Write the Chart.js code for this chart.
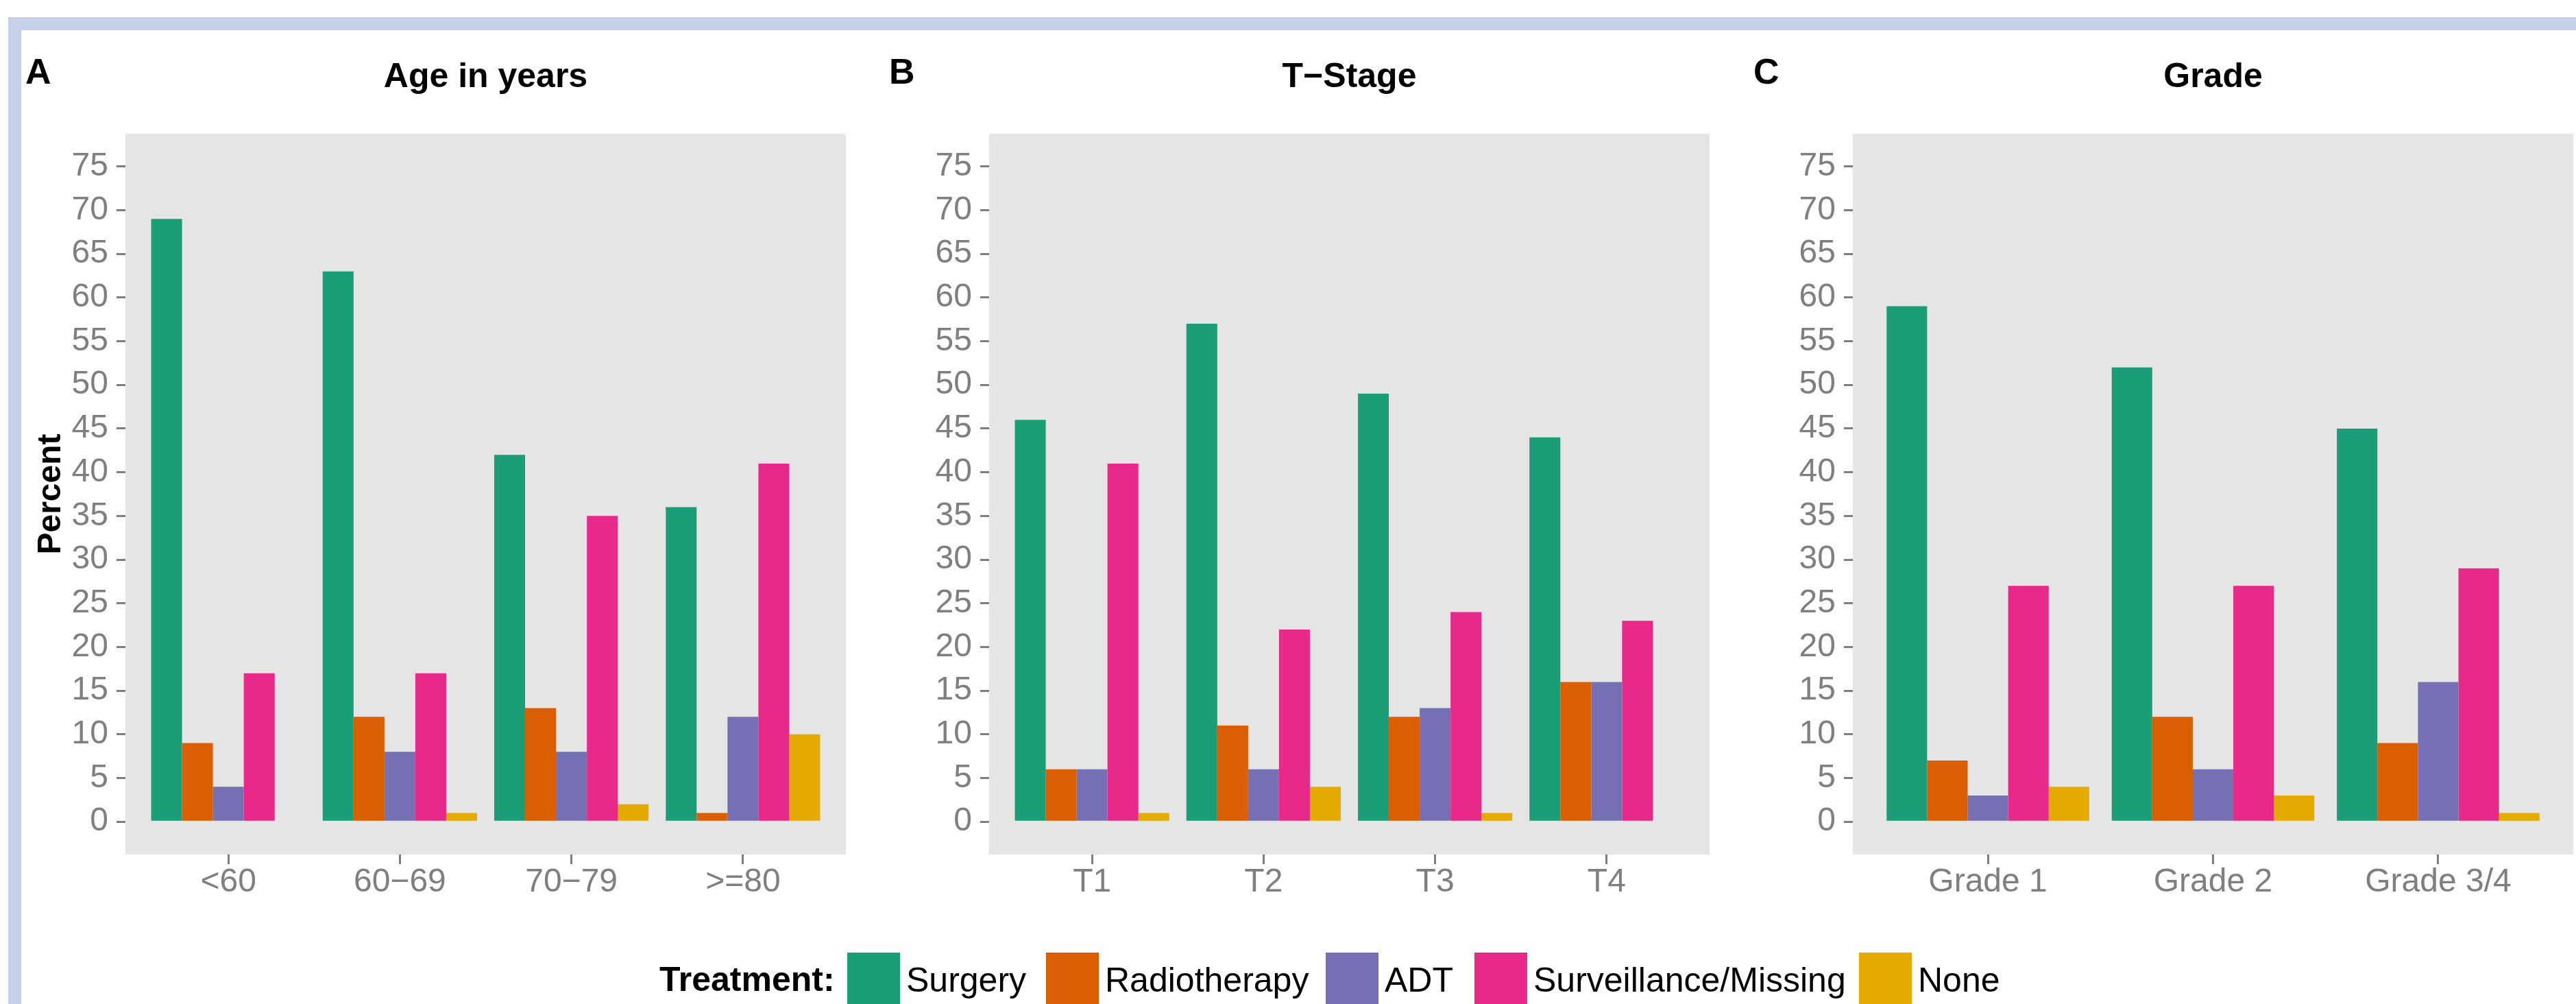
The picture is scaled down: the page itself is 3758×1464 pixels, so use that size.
<!DOCTYPE html>
<html>
<head>
<meta charset="utf-8">
<script src="https://cdn.jsdelivr.net/npm/chart.js@4.4.1/dist/chart.umd.min.js"></script>
<style>
html,body{margin:0;padding:0;background:#fff;width:3758px;height:1464px;overflow:hidden;font-family:"Liberation Sans",Arial,Helvetica,sans-serif;position:relative;}
#frame{position:absolute;left:12px;top:25px;width:4000px;height:2000px;border-top:19px solid #c6d0e8;border-left:19px solid #c6d0e8;box-sizing:border-box;}
canvas{position:absolute;top:0;}
.plab{position:absolute;font-weight:bold;font-size:52px;line-height:52px;top:78px;color:#000;}
.lg-title{position:absolute;top:1403px;font-weight:bold;font-size:50px;line-height:50px;color:#000;white-space:nowrap;}
.lg-text{position:absolute;top:1404px;font-size:50px;line-height:50px;color:#000;white-space:nowrap;}
.lg-sw{position:absolute;top:1389px;height:80px;width:77px;}
</style>
</head>
<body>
<div id="frame"></div>
<canvas id="cA"></canvas>
<canvas id="cB"></canvas>
<canvas id="cC"></canvas>
<div class="plab" style="left:37px">A</div>
<div class="plab" style="left:1297px">B</div>
<div class="plab" style="left:2558px">C</div>
<div id="legend"></div>
<script>
// ---- data ----
const treatments = ['Surgery', 'Radiotherapy', 'ADT', 'Surveillance/Missing', 'None'];
const treatmentColors = ['#1B9E77', '#D95F02', '#7570B3', '#E7298A', '#E6AB02'];

const ageCategories = ['<60', '60\u221269', '70\u221279', '>=80'];
const ageSurgery = [69, 63, 42, 36];
const ageRadiotherapy = [9, 12, 13, 1];
const ageADT = [4, 8, 8, 12];
const ageSurveillance = [17, 17, 35, 41];
const ageNone = [0, 1, 2, 10];

const stageCategories = ['T1', 'T2', 'T3', 'T4'];
const stageSurgery = [46, 57, 49, 44];
const stageRadiotherapy = [6, 11, 12, 16];
const stageADT = [6, 6, 13, 16];
const stageSurveillance = [41, 22, 24, 23];
const stageNone = [1, 4, 1, 0];

const gradeCategories = ['Grade 1', 'Grade 2', 'Grade 3/4'];
const gradeSurgery = [59, 52, 45];
const gradeRadiotherapy = [7, 12, 9];
const gradeADT = [3, 6, 16];
const gradeSurveillance = [27, 27, 29];
const gradeNone = [4, 3, 1];

const yTickValues = [0, 5, 10, 15, 20, 25, 30, 35, 40, 45, 50, 55, 60, 65, 70, 75];
const yMin = -3.75, yMax = 78.75;

// ---- drawing ----
const FONT = '"Liberation Sans", Arial, Helvetica, sans-serif';
Chart.defaults.font.family = FONT;
const GREY = '#7f7f7f';

const panelBg = {
  id: 'panelBg',
  beforeDraw(chart) {
    const {ctx, chartArea: a} = chart;
    ctx.save();
    ctx.fillStyle = '#e5e5e5';
    ctx.fillRect(a.left, a.top, a.right - a.left, a.bottom - a.top);
    ctx.restore();
  }
};

function makeChart(id, left, width, axisW, padRight, title, cats, series, showYTitle) {
  const canvas = document.getElementById(id);
  canvas.width = width;
  canvas.height = 1330;
  canvas.style.left = left + 'px';
  canvas.style.width = width + 'px';
  canvas.style.height = '1330px';
  const datasets = treatments.map((t, i) => ({
    label: t,
    data: series[i].map((v, j) => ({x: j + 1, y: v})),
    backgroundColor: treatmentColors[i],
    borderWidth: 0,
    categoryPercentage: 0.9,
    barPercentage: 1.0
  }));
  return new Chart(canvas, {
    type: 'bar',
    data: {datasets},
    plugins: [panelBg],
    options: {
      responsive: false,
      animation: false,
      devicePixelRatio: 1,
      layout: {padding: {left: 0, right: padRight, top: 0, bottom: 0}},
      plugins: {
        legend: {display: false},
        tooltip: {enabled: false},
        title: {
          display: true,
          text: title,
          fullSize: false,
          color: '#000',
          font: {family: FONT, size: 50, weight: 'bold', lineHeight: 1},
          padding: {top: 88, bottom: 57}
        }
      },
      scales: {
        x: {
          type: 'linear',
          offset: false,
          min: 0.4,
          max: cats.length + 0.6,
          afterBuildTicks: s => { s.ticks = cats.map((c, i) => ({value: i + 1})); },
          afterFit: s => { s.height = 84; },
          border: {display: false},
          grid: {display: true, offset: false, drawOnChartArea: false, drawTicks: true, tickLength: 14, tickWidth: 3, tickColor: GREY, color: GREY, lineWidth: 3},
          ticks: {
            autoSkip: false, maxRotation: 0, minRotation: 0, padding: 3,
            color: GREY, font: {family: FONT, size: 48, lineHeight: 1},
            callback: v => cats[v - 1]
          }
        },
        y: {
          type: 'linear',
          min: yMin,
          max: yMax,
          afterBuildTicks: s => { s.ticks = yTickValues.map(v => ({value: v})); },
          afterFit: s => { s.width = axisW; },
          border: {display: false},
          grid: {offset: false, drawOnChartArea: false, drawTicks: true, tickLength: 13, tickWidth: 3, tickColor: GREY, color: GREY, lineWidth: 3},
          ticks: {
            autoSkip: false, padding: 12, color: GREY,
            font: {family: FONT, size: 48, lineHeight: 1},
            callback: v => String(v)
          },
          title: {
            display: showYTitle,
            text: 'Percent',
            color: '#000',
            font: {family: FONT, size: 48, weight: 'bold', lineHeight: 1},
            padding: {top: 51, bottom: 0}
          }
        }
      }
    }
  });
}

makeChart('cA', 0, 1240, 183, 6, 'Age in years', ageCategories,
  [ageSurgery, ageRadiotherapy, ageADT, ageSurveillance, ageNone], true);
makeChart('cB', 1240, 1260, 203, 6, 'T\u2212Stage', stageCategories,
  [stageSurgery, stageRadiotherapy, stageADT, stageSurveillance, stageNone], false);
makeChart('cC', 2500, 1258, 203, 4, 'Grade', gradeCategories,
  [gradeSurgery, gradeRadiotherapy, gradeADT, gradeSurveillance, gradeNone], false);

// ---- legend (HTML) ----
const legend = document.getElementById('legend');
const lgTitle = document.createElement('div');
lgTitle.className = 'lg-title';
lgTitle.style.left = '962px';
lgTitle.textContent = 'Treatment:';
legend.appendChild(lgTitle);
const swatchLefts = [1236, 1526, 1934, 2151, 2712];
treatments.forEach((t, i) => {
  const sw = document.createElement('div');
  sw.className = 'lg-sw';
  sw.style.left = swatchLefts[i] + 'px';
  sw.style.background = treatmentColors[i];
  legend.appendChild(sw);
  const tx = document.createElement('div');
  tx.className = 'lg-text';
  tx.style.left = (swatchLefts[i] + 86) + 'px';
  tx.textContent = t;
  legend.appendChild(tx);
});
</script>
</body>
</html>
